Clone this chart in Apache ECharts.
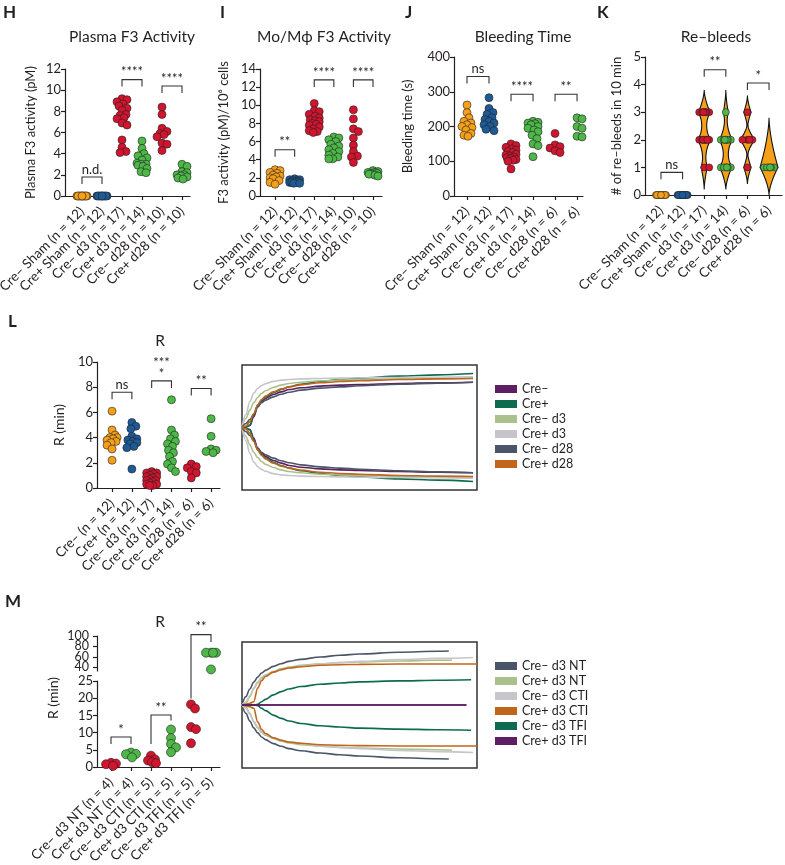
<!DOCTYPE html>
<html>
<head>
<meta charset="utf-8">
<title>F3 panels H-M</title>
<script src="https://cdn.jsdelivr.net/npm/echarts@6/dist/echarts.min.js"></script>
</head>
<body style="margin:0;background:#fff">
<div id="main" style="width:785px;height:865px;"></div>
<script type="text/javascript">
// ---------- data ----------
var catsHI = ['Cre– Sham (n = 12)', 'Cre+ Sham (n = 12)', 'Cre– d3 (n = 17)', 'Cre+ d3 (n = 14)', 'Cre– d28 (n = 10)', 'Cre+ d28 (n = 10)'];
var catsJK = ['Cre– Sham (n = 12)', 'Cre+ Sham (n = 12)', 'Cre– d3 (n = 17)', 'Cre+ d3 (n = 14)', 'Cre– d28 (n = 6)', 'Cre+ d28 (n = 6)'];
var catsL = ['Cre– (n = 12)', 'Cre+ (n = 12)', 'Cre– d3 (n = 17)', 'Cre+ d3 (n = 14)', 'Cre– d28 (n = 6)', 'Cre+ d28 (n = 6)'];
var catsM = ['Cre– d3 NT (n = 4)', 'Cre+ d3 NT (n = 4)', 'Cre– d3 CTI (n = 5)', 'Cre+ d3 CTI (n = 5)', 'Cre– d3 TFI (n = 5)', 'Cre+ d3 TFI (n = 5)'];

// H: plasma F3 activity (pM)
var plasmaF3 = [
    [0, 0, 0, 0, 0, 0, 0, 0, 0, 0, 0, 0],
    [0, 0, 0, 0, 0, 0, 0, 0, 0, 0, 0, 0],
    [9.2, 9.1, 8.9, 8.7, 8.5, 8.3, 8.1, 7.7, 7.6, 7.4, 7.3, 6.9, 6.7, 5.3, 4.6, 4.2, 4.1],
    [5.2, 4.5, 4.0, 3.8, 3.6, 3.4, 3.1, 3.0, 3.0, 2.9, 2.8, 2.6, 2.3, 2.2],
    [8.4, 7.7, 6.4, 6.1, 5.9, 5.8, 5.6, 5.0, 4.9, 4.3],
    [3.0, 2.8, 2.3, 2.2, 2.0, 2.0, 1.9, 1.8, 1.7, 1.6]
];
// I: Mo/Mphi F3 activity (pM / 10^6 cells)
var monoF3 = [
    [2.9, 2.8, 2.6, 2.5, 2.3, 2.2, 2.1, 2.0, 1.9, 1.7, 1.5, 1.3],
    [1.9, 1.8, 1.8, 1.7, 1.7, 1.6, 1.6, 1.5, 1.5, 1.5, 1.4, 1.4],
    [10.2, 9.4, 9.3, 9.0, 8.8, 8.6, 8.4, 8.3, 8.2, 8.0, 7.9, 7.8, 7.6, 7.4, 7.2, 7.1, 7.0],
    [6.5, 6.4, 6.2, 6.0, 5.7, 5.5, 5.3, 5.1, 4.9, 4.7, 4.5, 4.3, 4.1, 4.1],
    [9.5, 8.5, 7.4, 7.1, 6.4, 5.6, 4.9, 4.4, 4.3, 3.7],
    [2.8, 2.7, 2.6, 2.6, 2.5, 2.5, 2.4, 2.4, 2.3, 2.2]
];
// J: bleeding time (s)
var bleedTime = [
    [262, 240, 225, 215, 210, 205, 200, 197, 190, 180, 175, 172],
    [283, 252, 240, 235, 225, 220, 215, 210, 205, 200, 192, 188],
    [150, 145, 140, 135, 132, 128, 125, 120, 118, 115, 112, 110, 108, 105, 103, 100, 78],
    [215, 212, 210, 208, 205, 200, 195, 190, 185, 175, 165, 150, 145, 113],
    [180, 147, 142, 138, 130, 125],
    [225, 222, 200, 195, 172, 170]
];
// K: re-bleeds in 10 min
var rebleeds = [
    [0, 0, 0, 0, 0, 0, 0, 0, 0, 0, 0, 0],
    [0, 0, 0, 0, 0, 0, 0, 0, 0, 0, 0, 0],
    [3, 3, 3, 3, 3, 3, 3, 2, 2, 2, 2, 2, 2, 2, 2, 1, 1],
    [3, 2, 2, 2, 2, 2, 2, 2, 1, 1, 1, 1, 1, 1],
    [3, 2, 2, 2, 2, 1],
    [1, 1, 1, 1, 1, 1]
];
// L: R (min)
var rTimeL = [
    [6.1, 4.6, 4.2, 4.0, 4.0, 3.9, 3.8, 3.7, 3.6, 3.4, 3.1, 2.2],
    [5.2, 4.9, 4.7, 4.1, 3.9, 3.8, 3.7, 3.6, 3.5, 3.3, 3.2, 1.5],
    [1.3, 1.2, 1.2, 1.1, 1.0, 0.9, 0.9, 0.8, 0.7, 0.6, 0.6, 0.5, 0.4, 0.3, 0.3, 0.2, 0.2],
    [7.0, 4.6, 4.2, 3.9, 3.7, 3.5, 3.3, 3.0, 2.8, 2.5, 2.1, 1.9, 1.6, 1.3],
    [1.9, 1.7, 1.6, 1.3, 1.2, 0.8],
    [5.5, 4.1, 3.1, 3.0, 2.9, 2.8]
];
// M: R (min)
var rTimeM = [
    [1.2, 1.0, 0.8, 0.3],
    [4.2, 3.8, 3.7, 2.8],
    [3.3, 2.2, 1.9, 1.4, 1.1],
    [10.9, 8.4, 6.7, 5.7, 4.3],
    [18.2, 17.0, 11.6, 11.0, 6.9],
    [68, 68, 68, 68, 36]
];
// tick labels of the upper (broken) segment of panel M
var mUpperTicks = [40, 60, 80, 100];

// significance brackets: [groupA, groupB, bracket height, label]
var sigH = [[0, 1, 1.8, 'n.d.'], [2, 3, 11.0, '****'], [4, 5, 10.4, '****']];
var sigI = [[0, 1, 5.1, '**'], [2, 3, 12.8, '****'], [4, 5, 12.8, '****']];
var sigJ = [[0, 1, 344, 'ns'], [2, 3, 293, '****'], [4, 5, 293, '**']];
var sigK = [[0, 1, 0.82, 'ns'], [2, 3, 4.54, '**'], [4, 5, 4.06, '*']];
var sigL = [[0, 1, 7.6, 'ns'], [2, 3, 8.5, '***\n*'], [4, 5, 7.9, '**']];
// M: [groupA, groupB, top, label, leg end A, leg end B]
var sigM = [[0, 1, 8.7, '*', 6.7, 6.7], [2, 3, 15.1, '**', 6.7, 13.5], [4, 5, 102.6, '**', 19.9, 88.7]];

// thromboelastography traces (half amplitude, mm) against time (min)
var tegTimes = [0, 1, 2, 3, 4, 5, 6, 8, 10, 12, 15, 20, 25, 30, 40, 50, 59];
var tegNamesL = ['Cre–', 'Cre+', 'Cre– d3', 'Cre+ d3', 'Cre– d28', 'Cre+ d28'];
var tegAmpL = [
    [0, 0.4, 1.3, 6.8, 13.2, 16.4, 18.6, 21.1, 22.8, 24.3, 25.4, 26.5, 27.1, 27.5, 28.2, 28.6, 29],
    [0, 0.4, 1.5, 7.9, 14.3, 17.5, 19.6, 22.2, 24.3, 26, 27.7, 29.4, 30.7, 31.6, 32.9, 33.7, 34.6],
    [0, 5.8, 11.1, 15.8, 19.2, 21.8, 23.5, 25.6, 27.1, 28.2, 29, 29.9, 30.3, 30.7, 31.1, 31.6, 32],
    [0, 8.5, 16.5, 22, 25, 26.8, 28, 29.5, 30.3, 30.7, 31.1, 31.4, 31.6, 31.8, 32, 32.2, 32.4],
    [0, 2.6, 5.1, 8.5, 13.2, 15.8, 17.5, 19.6, 21.3, 22.6, 23.9, 25.2, 26, 26.7, 27.7, 28.4, 29],
    [0, 0.9, 3.6, 9, 14.3, 17.9, 20.1, 22.8, 24.7, 26, 27.3, 28.6, 29.4, 29.9, 30.7, 31.1, 31.4]
];
var tegTimesM = [0, 1, 2, 3, 4, 5, 6, 8, 10, 12, 15, 20, 25, 30, 40, 50];
var tegEndM = [52.8, 53.6, 59, 60, 58.5, 57.3];
var tegNamesM = ['Cre– d3 NT', 'Cre+ d3 NT', 'Cre– d3 CTI', 'Cre+ d3 CTI', 'Cre– d3 TFI', 'Cre+ d3 TFI'];
var tegAmpM = [
    [0, 5.3, 10.2, 14.5, 17.7, 20.3, 22, 24.5, 26.2, 27.7, 29, 30.5, 31.6, 32.4, 33.5, 34.1, 34.3],
    [0, 1.1, 5.3, 10.7, 14.5, 17.5, 19.2, 21.3, 23, 24.1, 25.2, 26.2, 26.9, 27.3, 27.9, 28.4, 28.6],
    [0, 2.1, 6, 10.2, 13.9, 16.6, 18.6, 20.9, 22.4, 23.5, 24.5, 26, 26.9, 27.7, 28.8, 29.6, 30.2],
    [0, 0.4, 1.1, 2.1, 10.7, 15.4, 18.1, 20.9, 22.4, 23.5, 24.3, 25.2, 25.6, 25.8, 26, 26, 26],
    [0, 0, 0, 0, 0.4, 2.1, 3.6, 6.4, 8.5, 10.2, 11.7, 13.2, 14, 14.7, 15.3, 15.7, 16],
    [0, 0, 0, 0, 0, 0, 0, 0, 0, 0, 0, 0, 0, 0, 0, 0, 0]
];

// ---------- style ----------
var FONT = 'Lato, "Noto Sans", sans-serif';
var INK = '#231f20';
var ORANGE = '#F6A01A', BLUE = '#1E5B96', RED = '#D2142E', GREEN = '#4DB848';
var colsA = [ORANGE, BLUE, RED, GREEN, RED, GREEN];
var colsM = [RED, GREEN, RED, GREEN, RED, GREEN];
var tegColorsL = ['#5C1F62', '#0F6B50', '#A9C18A', '#C6C6CA', '#4A5668', '#C0661A'];
var tegColorsM = ['#4A5668', '#A9C18A', '#C6C6CA', '#C0661A', '#0F6B50', '#5C1F62'];
var violinLow = [0, 0, 0.8, 0.8, 0.6, 1.0];
var violinHigh = [0, 0, 0.8, 0.8, 0.6, 1.8];
var VIOLIN_W = 9;
var TICK_FS = 13, CAT_FS = 13.5;

var panels = [
    {grid: {left: 65, top: 69, width: 125, height: 127}, x: [-0.85, 5.4], y: [0, 12, 2], cats: catsHI, vals: plasmaF3, cols: colsA, name: 'Plasma F3 activity (pM)', gap: 28, nsize: 13},
    {grid: {left: 260, top: 69, width: 122, height: 127}, x: [-0.77, 5.46], y: [0, 14, 2], cats: catsHI, vals: monoF3, cols: colsA, name: 'F3 activity (pM)/10⁶ cells', gap: 30, nsize: 13},
    {grid: {left: 454, top: 57, width: 129, height: 139}, x: [-0.59, 5.27], y: [0, 400, 100], cats: catsJK, vals: bleedTime, cols: colsA, name: 'Bleeding time (s)', gap: 40, nsize: 13},
    {grid: {left: 645, top: 57, width: 137, height: 138}, x: [-0.74, 5.6], y: [0, 5, 1], cats: catsJK, vals: rebleeds, cols: colsA, name: '# of re–bleeds in 10 min', gap: 22, nsize: 13, dot: 7},
    {grid: {left: 97, top: 362, width: 123, height: 126}, x: [-0.76, 5.45], y: [0, 10, 2], cats: catsL, vals: rTimeL, cols: colsA, name: 'R (min)', gap: 31, nsize: 14}
];
var mLow = {grid: {left: 97, top: 681, width: 123, height: 86}, x: [-0.7, 5.45], y: [0, 25, 5]};
var mUp = {grid: {left: 97, top: 636, width: 123, height: 35}, x: [-0.7, 5.45], y: [33, 100]};

var chart = echarts.init(document.getElementById('main'));

// simple deterministic beeswarm, offsets in pixels
function swarm(vals, ky, dmin, maxHalf) {
    var idx = vals.map(function (v, i) { return i; }).sort(function (a, b) { return vals[b] - vals[a]; });
    var placed = [], off = [];
    idx.forEach(function (i) {
        var y = vals[i] * ky, best = 0, bestD = -1;
        for (var k = 0; k <= 2 * maxHalf; k++) {
            var dx = k === 0 ? 0 : (k % 2 ? 1 : -1) * Math.ceil(k / 2);
            var d = Infinity;
            placed.forEach(function (p) {
                var e = Math.sqrt((dx - p[0]) * (dx - p[0]) + (y - p[1]) * (y - p[1]));
                if (e < d) d = e;
            });
            if (d >= dmin) { best = dx; break; }
            if (d > bestD) { bestD = d; best = dx; }
        }
        placed.push([best, y]);
        off[i] = best;
    });
    return off;
}

function dotData(p, vals, cols, filter) {
    var kx = p.grid.width / (p.x[1] - p.x[0]);
    var ky = p.grid.height / (p.y[1] - p.y[0]);
    var out = [];
    vals.forEach(function (grp, g) {
        var sub = grp.filter(filter || function () { return true; });
        var off = swarm(sub, ky, 5.5, 5);
        sub.forEach(function (v, i) {
            out.push({value: [g + off[i] / kx, v], itemStyle: {color: cols[g]}});
        });
    });
    return out;
}

function gridOf(p) {
    return {left: p.grid.left, top: p.grid.top, width: p.grid.width, height: p.grid.height, containLabel: false, outerBoundsMode: 'none'};
}
function xAxisOf(i, p, cats, show) {
    return {
        type: 'value', gridIndex: i, min: p.x[0], max: p.x[1], show: show,
        axisLine: {show: true, onZero: false, lineStyle: {color: INK, width: 1.2}},
        axisTick: {show: true, length: 4, customValues: [0, 1, 2, 3, 4, 5], lineStyle: {color: INK, width: 1.2}},
        axisLabel: {customValues: [0, 1, 2, 3, 4, 5], rotate: 45, margin: 13, fontSize: CAT_FS, fontFamily: FONT, color: INK, hideOverlap: false,
            formatter: function (v) { return cats ? cats[Math.round(v)] : ''; }},
        splitLine: {show: false}
    };
}
function yAxisOf(i, p, extra) {
    var ax = {
        type: 'value', gridIndex: i, min: p.y[0], max: p.y[1], interval: p.y[2],
        axisLine: {show: true, onZero: false, lineStyle: {color: INK, width: 1.2}},
        axisTick: {show: true, length: 4, lineStyle: {color: INK, width: 1.2}},
        axisLabel: {fontSize: TICK_FS, fontFamily: FONT, color: INK, margin: 4},
        splitLine: {show: false}
    };
    if (p.name) {
        ax.name = p.name; ax.nameLocation = 'middle'; ax.nameGap = p.gap;
        ax.nameTextStyle = {fontSize: p.nsize, fontFamily: FONT, color: INK};
    }
    return Object.assign(ax, extra || {});
}

var grids = [], xAxes = [], yAxes = [], series = [];
panels.forEach(function (p, i) {
    grids.push(gridOf(p));
    xAxes.push(xAxisOf(i, p, p.cats, true));
    yAxes.push(yAxisOf(i, p));
});
// 5: L traces
var tegBoxL = {left: 242, top: 365, width: 235, height: 125};
var tegBoxM = {left: 242, top: 642, width: 235, height: 126};
function tegGrid(b) {
    return {left: b.left, top: b.top, width: b.width, height: b.height, show: true, borderColor: '#333', borderWidth: 1.5, backgroundColor: '#fff', outerBoundsMode: 'none'};
}
grids.push(tegGrid(tegBoxL));
xAxes.push({type: 'value', gridIndex: 5, min: 0, max: 60, show: false});
yAxes.push({type: 'value', gridIndex: 5, min: -40, max: 40, show: false});
// 6: M lower, 7: M upper
grids.push(gridOf(mLow));
xAxes.push(xAxisOf(6, mLow, catsM, true));
yAxes.push(yAxisOf(6, mLow));
grids.push(gridOf(mUp));
xAxes.push(xAxisOf(7, mUp, null, false));
yAxes.push(yAxisOf(7, mUp, {
    interval: null,
    axisTick: {show: true, length: 4, customValues: mUpperTicks, lineStyle: {color: INK, width: 1.2}},
    axisLabel: {show: false}
}));
// 8: M traces
grids.push(tegGrid(tegBoxM));
xAxes.push({type: 'value', gridIndex: 8, min: 0, max: 60, show: false});
yAxes.push({type: 'value', gridIndex: 8, min: -40, max: 40, show: false});

// violins for K
function quartiles(vals) {
    var s = vals.slice().sort(function (a, b) { return a - b; }), n = s.length;
    function q(p) { var h = (n - 1) * p, l = Math.floor(h); return s[l] + (h - l) * ((s[l + 1] !== undefined ? s[l + 1] : s[l]) - s[l]); }
    var out = [];
    [q(0.25), q(0.5), q(0.75)].forEach(function (v) { if (out.indexOf(v) < 0) out.push(v); });
    return out;
}
series.push({
    type: 'custom', xAxisIndex: 3, yAxisIndex: 3, z: 1, silent: true,
    data: rebleeds.map(function (v, i) { return [i, 0]; }),
    renderItem: function (params, api) {
        var g = api.value(0), vals = rebleeds[g], lo = violinLow[g], hi = violinHigh[g];
        if (!lo) return null;
        var n = vals.length, counts = {};
        vals.forEach(function (v) { counts[v] = (counts[v] || 0) + 1; });
        var keys = Object.keys(counts).map(Number);
        function hw(y) {
            var s = 0;
            keys.forEach(function (v) {
                var h = y < v ? lo : hi, u = Math.abs(y - v) / h;
                if (u < 1) s += Math.sqrt(counts[v] / n) * Math.pow(1 - u, 1.6);
            });
            return s * VIOLIN_W;
        }
        var y0 = Math.max(0, Math.min.apply(null, vals) - lo), y1 = Math.max.apply(null, vals) + hi;
        var right = [], left = [];
        for (var y = y0; y <= y1 + 1e-9; y += 0.02) {
            var c = api.coord([g, y]), w = hw(y);
            right.push([c[0] + w, c[1]]);
            left.unshift([c[0] - w, c[1]]);
        }
        var kids = [{type: 'polygon', shape: {points: right.concat(left)}, style: {fill: ORANGE, stroke: '#111', lineWidth: 1.1}}];
        quartiles(vals).forEach(function (q) {
            var c = api.coord([g, q]), w = hw(q);
            kids.push({type: 'line', shape: {x1: c[0] - w, y1: c[1], x2: c[0] + w, y2: c[1]}, style: {stroke: '#111', lineWidth: 1.6}});
        });
        return {type: 'group', children: kids};
    }
});

// dot plots
var dotStyle = {borderColor: '#222', borderWidth: 0.6, opacity: 1};
panels.forEach(function (p, i) {
    series.push({
        type: 'scatter', xAxisIndex: i, yAxisIndex: i, z: 3, silent: true,
        symbolSize: p.dot || 8, itemStyle: dotStyle,
        data: dotData(p, p.vals, p.cols)
    });
});
series.push({
    type: 'scatter', xAxisIndex: 6, yAxisIndex: 6, z: 3, silent: true, symbolSize: 9, itemStyle: dotStyle,
    data: dotData(mLow, rTimeM, colsM, function (v) { return v <= mLow.y[1]; })
});
series.push({
    type: 'scatter', xAxisIndex: 7, yAxisIndex: 7, z: 3, silent: true, symbolSize: 9, itemStyle: dotStyle,
    data: dotData(mUp, rTimeM, colsM, function (v) { return v >= mUp.y[0]; })
});

// TEG traces, upper and lower branch
function addTraces(gi, names, colors, amps, times, ends) {
    names.forEach(function (nm, k) {
        var pts = amps[k].map(function (a, j) { return [j < times.length ? times[j] : ends[k], a]; });
        [1, -1].forEach(function (sgn) {
            series.push({
                type: 'line', name: nm, xAxisIndex: gi, yAxisIndex: gi, z: 2, silent: true,
                symbol: 'none', smooth: 0.35, smoothMonotone: 'x',
                lineStyle: {color: colors[k], width: 1.6}, itemStyle: {color: colors[k]},
                data: pts.map(function (d) { return [d[0], sgn * d[1]]; })
            });
        });
    });
}
addTraces(5, tegNamesL, tegColorsL, tegAmpL, tegTimes, tegNamesL.map(function () { return 59; }));
addTraces(8, tegNamesM, tegColorsM, tegAmpM, tegTimesM, tegEndM);

function legendAt(names, top) {
    return {
        data: names, left: 490, top: top, orient: 'vertical', icon: 'rect',
        itemWidth: 22, itemHeight: 8, itemGap: 1, selectedMode: false,
        textStyle: {fontSize: 12.5, fontFamily: FONT, color: INK, lineHeight: 14}
    };
}

var option = {
    animation: false,
    backgroundColor: '#fff',
    grid: grids,
    xAxis: xAxes,
    yAxis: yAxes,
    legend: [legendAt(tegNamesL, 377), legendAt(tegNamesM, 654)],
    series: series
};
chart.setOption(option);

// ---------- annotations: titles, panel letters, brackets ----------
function px(gi, x, y) { return chart.convertToPixel({xAxisIndex: gi, yAxisIndex: gi}, [x, y]); }
function txt(s, x, y, size, weight, align, valign, lh) {
    return {type: 'text', silent: true, z: 10, style: {
        text: s, x: x, y: y, fill: INK, fontSize: size, fontFamily: FONT, fontWeight: weight || 'normal',
        align: align || 'left', textAlign: align || 'left', verticalAlign: valign || 'top', textVerticalAlign: valign || 'top',
        lineHeight: lh
    }};
}
var els = [];
[['H', 3, 4], ['I', 220, 4], ['J', 405, 4], ['K', 597, 4], ['L', 8, 313], ['M', 5, 593]].forEach(function (l) {
    els.push(txt(l[0], l[1], l[2], 17, 'bold'));
});
[['Plasma F3 Activity', 132], ['Mo/Mϕ F3 Activity', 324], ['Bleeding Time', 523], ['Re–bleeds', 716]].forEach(function (t) {
    els.push(txt(t[0], t[1], 37, 15.5, 'normal', 'center', 'middle'));
});
els.push(txt('R', 160, 341, 15.5, 'normal', 'center', 'middle'));
els.push(txt('R', 160, 622, 15.5, 'normal', 'center', 'middle'));
els.push({type: 'text', silent: true, x: 53, y: 698, rotation: Math.PI / 2, style: {
    text: 'R (min)', fill: INK, fontSize: 14, fontFamily: FONT, align: 'center', textAlign: 'center', verticalAlign: 'middle', textVerticalAlign: 'middle'}});
// tightly stacked tick labels on the upper segment of M
mUpperTicks.forEach(function (v) {
    var p = px(7, mUp.x[0], v);
    els.push(txt(String(v), p[0] - 8, p[1], 12.5, 'normal', 'right', 'middle'));
});

function bracket(xa, xb, y, ya, yb, label) {
    els.push({type: 'polyline', silent: true, z: 10, shape: {points: [[xa, ya], [xa, y], [xb, y], [xb, yb]]},
        style: {stroke: '#333', lineWidth: 1.1, fill: null}});
    els.push(txt(label, (xa + xb) / 2, y - 2, 13, 'normal', 'center', 'bottom', 11));
}
[[0, sigH], [1, sigI], [2, sigJ], [3, sigK], [4, sigL]].forEach(function (pair) {
    pair[1].forEach(function (s) {
        var a = px(pair[0], s[0], s[2]), b = px(pair[0], s[1], s[2]);
        bracket(a[0], b[0], a[1], a[1] + 7, b[1] + 7, s[3]);
    });
});
sigM.forEach(function (s, k) {
    var top = k < 2 ? 6 : 7;
    var a = px(top, s[0], s[2]), b = px(top, s[1], s[2]);
    var la = px(6, s[0], s[4])[1];
    var lb = px(top, s[1], s[5])[1];
    bracket(a[0], b[0], a[1], la, lb, s[3]);
});
chart.setOption({graphic: {elements: els}});
</script>
</body>
</html>
